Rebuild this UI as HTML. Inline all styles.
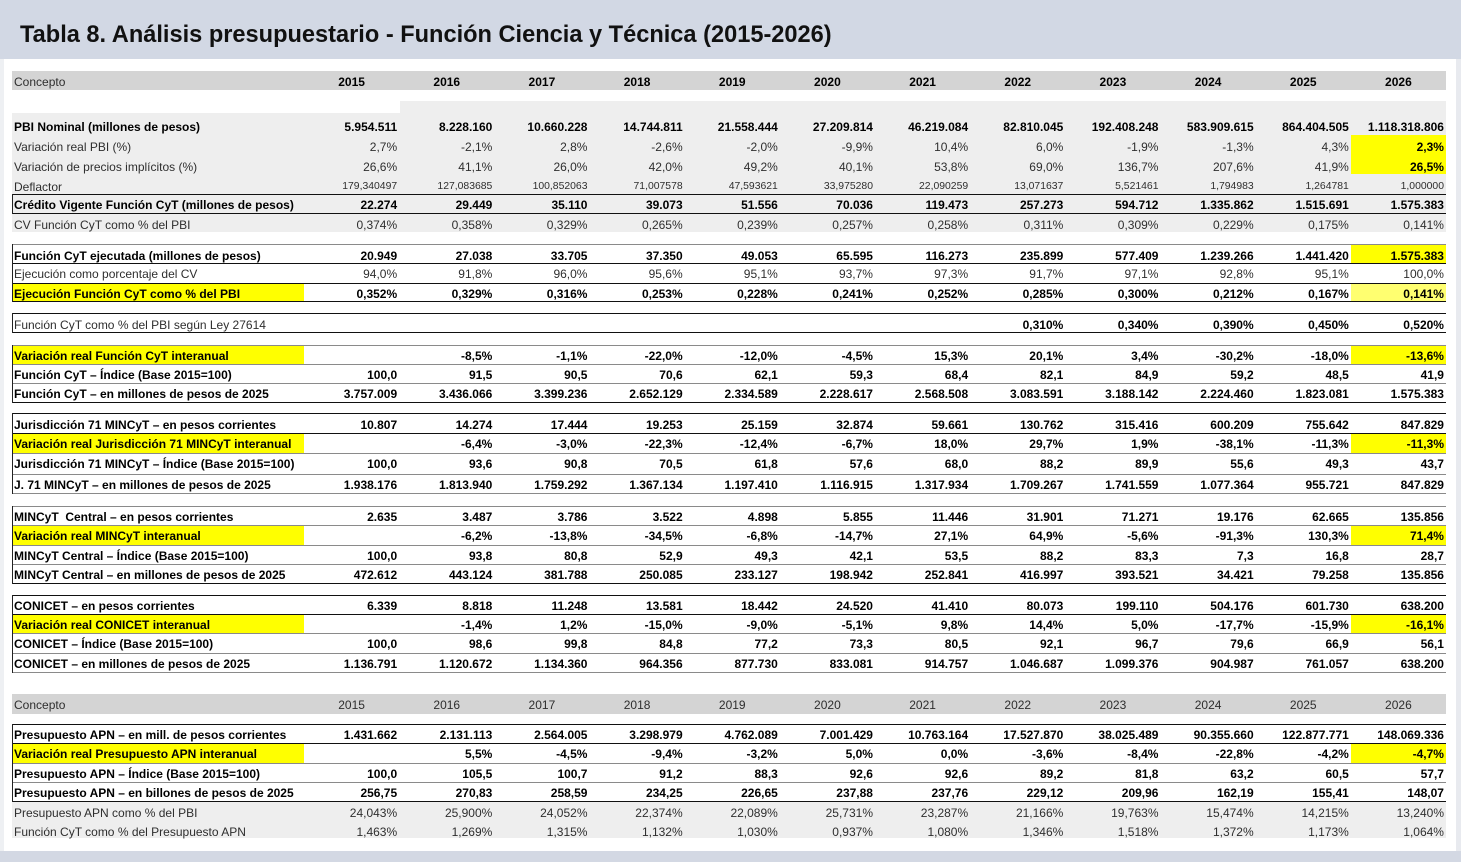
<!DOCTYPE html>
<html><head><meta charset="utf-8">
<style>
html,body{margin:0;padding:0}
body{width:1461px;height:862px;position:relative;background:#fff;overflow:hidden;font-family:"Liberation Sans",Arial,sans-serif;color:#2e2e2e}
.abs{position:absolute}
.title{left:0;top:0;width:1461px;height:59px;background:#d2d8e4}
.title span{position:absolute;left:20px;top:22px;font-size:23.6px;line-height:26px;font-weight:bold;color:#111;white-space:nowrap}
.r{position:absolute;left:12px;width:1434px;display:grid;grid-template-columns:292px repeat(12,1fr);font-size:12px;white-space:nowrap}
.r>span{text-align:right;padding-right:2px;overflow:visible;position:relative;top:1px}
.r.s2>span{top:2px}
.r>span:first-child{text-align:left;padding-left:2px}
.b{font-weight:bold;color:#000}
.h>span{text-align:center;padding:0}
.d>span{font-size:10.4px}
.d>span:first-child{font-size:12px}
.ln{position:absolute;left:12px;width:1434px;height:1px;background:#111}
.lg{position:absolute;left:12px;width:1434px;height:1px;background:#8a8a8a}
.vb{position:absolute;left:12px;width:1px;background:#222}
.yl{position:absolute;background:#ffff00}
.gr{position:absolute;background:#eeeeee}
</style></head><body>
<div class="abs title"><span>Tabla 8. Análisis presupuestario - Función Ciencia y Técnica (2015-2026)</span></div>
<div class="abs" style="left:0;top:59px;width:4px;height:792px;background:#eef0f3"></div>
<div class="abs" style="left:1456px;top:59px;width:5px;height:792px;background:#e8eaef"></div>
<div class="abs" style="left:0;top:851px;width:1461px;height:11px;background:#d3d8e3"></div>

<!-- backgrounds -->
<div class="abs" style="left:12px;top:71px;width:1434px;height:19px;background:#d4d4d4"></div>
<div class="gr" style="left:400px;top:101px;width:1046px;height:12px"></div>
<div class="gr" style="left:12px;top:113px;width:1434px;height:119px"></div>
<div class="abs" style="left:12px;top:694px;width:1434px;height:20px;background:#d4d4d4"></div>
<div class="gr" style="left:12px;top:801px;width:1434px;height:37px"></div>

<!-- yellow -->
<div class="yl" style="left:1351px;top:135px;width:95px;height:39px"></div>
<div class="yl" style="left:1351px;top:245px;width:95px;height:18px"></div>
<div class="yl" style="left:1351px;top:284px;width:95px;height:17px;background:#ffff70"></div>
<div class="yl" style="left:12px;top:284px;width:292px;height:17px"></div>
<div class="yl" style="left:12px;top:346px;width:292px;height:18px"></div>
<div class="yl" style="left:1351px;top:346px;width:95px;height:18px"></div>
<div class="yl" style="left:12px;top:434px;width:292px;height:19px"></div>
<div class="yl" style="left:1351px;top:434px;width:95px;height:19px"></div>
<div class="yl" style="left:12px;top:526px;width:292px;height:19px"></div>
<div class="yl" style="left:1351px;top:526px;width:95px;height:19px"></div>
<div class="yl" style="left:12px;top:615px;width:292px;height:18px"></div>
<div class="yl" style="left:1351px;top:615px;width:95px;height:18px"></div>
<div class="yl" style="left:12px;top:744px;width:292px;height:19px"></div>
<div class="yl" style="left:1351px;top:744px;width:95px;height:19px"></div>

<!-- lines -->
<div class="ln" style="top:194px"></div>
<div class="ln" style="top:213px"></div>
<div class="lg" style="top:244px"></div>
<div class="ln" style="top:263px"></div>
<div class="ln" style="top:283px"></div>
<div class="ln" style="top:301px"></div>
<div class="ln" style="top:313px"></div>
<div class="ln" style="top:332px"></div>
<div class="lg" style="top:345px"></div>
<div class="lg" style="top:364px"></div>
<div class="lg" style="top:383px"></div>
<div class="ln" style="top:402px"></div>
<div class="ln" style="top:413px"></div>
<div class="ln" style="top:433px"></div>
<div class="lg" style="top:453px"></div>
<div class="lg" style="top:474px"></div>
<div class="lg" style="top:493px"></div>
<div class="lg" style="top:506px"></div>
<div class="lg" style="top:525px"></div>
<div class="lg" style="top:545px"></div>
<div class="lg" style="top:564px"></div>
<div class="ln" style="top:583px"></div>
<div class="ln" style="top:595px"></div>
<div class="ln" style="top:614px"></div>
<div class="lg" style="top:633px"></div>
<div class="lg" style="top:653px"></div>
<div class="lg" style="top:672px"></div>
<div class="ln" style="top:724px"></div>
<div class="ln" style="top:743px"></div>
<div class="lg" style="top:763px"></div>
<div class="lg" style="top:782px"></div>
<div class="ln" style="top:801px"></div>

<div class="vb" style="top:194px;height:20px"></div>
<div class="vb" style="top:244px;height:58px"></div>
<div class="vb" style="top:313px;height:20px"></div>
<div class="vb" style="top:345px;height:58px"></div>
<div class="vb" style="top:413px;height:81px"></div>
<div class="vb" style="top:506px;height:78px"></div>
<div class="vb" style="top:595px;height:78px"></div>
<div class="vb" style="top:724px;height:78px"></div>

<!-- header 1 -->
<div class="r h s2" style="top:71px;height:19px;line-height:19px"><span style="text-align:left;padding-left:2px">Concepto</span><span class="b">2015</span><span class="b">2016</span><span class="b">2017</span><span class="b">2018</span><span class="b">2019</span><span class="b">2020</span><span class="b">2021</span><span class="b">2022</span><span class="b">2023</span><span class="b">2024</span><span class="b">2025</span><span class="b">2026</span></div>

<div class="r b" style="top:117px;height:19px;line-height:19px"><span>PBI Nominal (millones de pesos)</span><span>5.954.511</span><span>8.228.160</span><span>10.660.228</span><span>14.744.811</span><span>21.558.444</span><span>27.209.814</span><span>46.219.084</span><span>82.810.045</span><span>192.408.248</span><span>583.909.615</span><span>864.404.505</span><span>1.118.318.806</span></div>
<div class="r" style="top:137px;height:19px;line-height:19px"><span>Variación real PBI (%)</span><span>2,7%</span><span>-2,1%</span><span>2,8%</span><span>-2,6%</span><span>-2,0%</span><span>-9,9%</span><span>10,4%</span><span>6,0%</span><span>-1,9%</span><span>-1,3%</span><span>4,3%</span><span class="b">2,3%</span></div>
<div class="r" style="top:157px;height:18px;line-height:18px"><span>Variación de precios implícitos (%)</span><span>26,6%</span><span>41,1%</span><span>26,0%</span><span>42,0%</span><span>49,2%</span><span>40,1%</span><span>53,8%</span><span>69,0%</span><span>136,7%</span><span>207,6%</span><span>41,9%</span><span class="b">26,5%</span></div>
<div class="r d s2" style="top:176px;height:18px;line-height:18px"><span>Deflactor</span><span>179,340497</span><span>127,083685</span><span>100,852063</span><span>71,007578</span><span>47,593621</span><span>33,975280</span><span>22,090259</span><span>13,071637</span><span>5,521461</span><span>1,794983</span><span>1,264781</span><span>1,000000</span></div>
<div class="r b" style="top:195px;height:18px;line-height:18px"><span>Crédito Vigente Función CyT (millones de pesos)</span><span>22.274</span><span>29.449</span><span>35.110</span><span>39.073</span><span>51.556</span><span>70.036</span><span>119.473</span><span>257.273</span><span>594.712</span><span>1.335.862</span><span>1.515.691</span><span>1.575.383</span></div>
<div class="r" style="top:215px;height:18px;line-height:18px"><span>CV Función CyT como % del PBI</span><span>0,374%</span><span>0,358%</span><span>0,329%</span><span>0,265%</span><span>0,239%</span><span>0,257%</span><span>0,258%</span><span>0,311%</span><span>0,309%</span><span>0,229%</span><span>0,175%</span><span>0,141%</span></div>

<div class="r b s2" style="top:245px;height:18px;line-height:19px"><span>Función CyT ejecutada (millones de pesos)</span><span>20.949</span><span>27.038</span><span>33.705</span><span>37.350</span><span>49.053</span><span>65.595</span><span>116.273</span><span>235.899</span><span>577.409</span><span>1.239.266</span><span>1.441.420</span><span>1.575.383</span></div>
<div class="r" style="top:264px;height:19px;line-height:19px"><span>Ejecución como porcentaje del CV</span><span>94,0%</span><span>91,8%</span><span>96,0%</span><span>95,6%</span><span>95,1%</span><span>93,7%</span><span>97,3%</span><span>91,7%</span><span>97,1%</span><span>92,8%</span><span>95,1%</span><span>100,0%</span></div>
<div class="r b" style="top:284px;height:17px;line-height:18px"><span>Ejecución Función CyT como % del PBI</span><span>0,352%</span><span>0,329%</span><span>0,316%</span><span>0,253%</span><span>0,228%</span><span>0,241%</span><span>0,252%</span><span>0,285%</span><span>0,300%</span><span>0,212%</span><span>0,167%</span><span>0,141%</span></div>

<div class="r s2" style="top:314px;height:18px;line-height:19px"><span>Función CyT como % del PBI según Ley 27614</span><span></span><span></span><span></span><span></span><span></span><span></span><span></span><span class="b">0,310%</span><span class="b">0,340%</span><span class="b">0,390%</span><span class="b">0,450%</span><span class="b">0,520%</span></div>

<div class="r b" style="top:346px;height:18px;line-height:18px"><span>Variación real Función CyT interanual</span><span></span><span>-8,5%</span><span>-1,1%</span><span>-22,0%</span><span>-12,0%</span><span>-4,5%</span><span>15,3%</span><span>20,1%</span><span>3,4%</span><span>-30,2%</span><span>-18,0%</span><span>-13,6%</span></div>
<div class="r b" style="top:365px;height:18px;line-height:18px"><span>Función CyT – Índice (Base 2015=100)</span><span>100,0</span><span>91,5</span><span>90,5</span><span>70,6</span><span>62,1</span><span>59,3</span><span>68,4</span><span>82,1</span><span>84,9</span><span>59,2</span><span>48,5</span><span>41,9</span></div>
<div class="r b" style="top:384px;height:18px;line-height:18px"><span>Función CyT – en millones de pesos de 2025</span><span>3.757.009</span><span>3.436.066</span><span>3.399.236</span><span>2.652.129</span><span>2.334.589</span><span>2.228.617</span><span>2.568.508</span><span>3.083.591</span><span>3.188.142</span><span>2.224.460</span><span>1.823.081</span><span>1.575.383</span></div>

<div class="r b s2" style="top:414px;height:19px;line-height:19px"><span>Jurisdicción 71 MINCyT – en pesos corrientes</span><span>10.807</span><span>14.274</span><span>17.444</span><span>19.253</span><span>25.159</span><span>32.874</span><span>59.661</span><span>130.762</span><span>315.416</span><span>600.209</span><span>755.642</span><span>847.829</span></div>
<div class="r b" style="top:434px;height:19px;line-height:19px"><span>Variación real Jurisdicción 71 MINCyT interanual</span><span></span><span>-6,4%</span><span>-3,0%</span><span>-22,3%</span><span>-12,4%</span><span>-6,7%</span><span>18,0%</span><span>29,7%</span><span>1,9%</span><span>-38,1%</span><span>-11,3%</span><span>-11,3%</span></div>
<div class="r b" style="top:454px;height:19px;line-height:19px"><span>Jurisdicción 71 MINCyT – Índice (Base 2015=100)</span><span>100,0</span><span>93,6</span><span>90,8</span><span>70,5</span><span>61,8</span><span>57,6</span><span>68,0</span><span>88,2</span><span>89,9</span><span>55,6</span><span>49,3</span><span>43,7</span></div>
<div class="r b" style="top:475px;height:18px;line-height:19px"><span>J. 71 MINCyT – en millones de pesos de 2025</span><span>1.938.176</span><span>1.813.940</span><span>1.759.292</span><span>1.367.134</span><span>1.197.410</span><span>1.116.915</span><span>1.317.934</span><span>1.709.267</span><span>1.741.559</span><span>1.077.364</span><span>955.721</span><span>847.829</span></div>

<div class="r b" style="top:507px;height:18px;line-height:18px"><span>MINCyT&nbsp; Central – en pesos corrientes</span><span>2.635</span><span>3.487</span><span>3.786</span><span>3.522</span><span>4.898</span><span>5.855</span><span>11.446</span><span>31.901</span><span>71.271</span><span>19.176</span><span>62.665</span><span>135.856</span></div>
<div class="r b" style="top:526px;height:19px;line-height:19px"><span>Variación real MINCyT interanual</span><span></span><span>-6,2%</span><span>-13,8%</span><span>-34,5%</span><span>-6,8%</span><span>-14,7%</span><span>27,1%</span><span>64,9%</span><span>-5,6%</span><span>-91,3%</span><span>130,3%</span><span>71,4%</span></div>
<div class="r b" style="top:546px;height:18px;line-height:18px"><span>MINCyT Central – Índice (Base 2015=100)</span><span>100,0</span><span>93,8</span><span>80,8</span><span>52,9</span><span>49,3</span><span>42,1</span><span>53,5</span><span>88,2</span><span>83,3</span><span>7,3</span><span>16,8</span><span>28,7</span></div>
<div class="r b" style="top:565px;height:18px;line-height:19px"><span>MINCyT Central – en millones de pesos de 2025</span><span>472.612</span><span>443.124</span><span>381.788</span><span>250.085</span><span>233.127</span><span>198.942</span><span>252.841</span><span>416.997</span><span>393.521</span><span>34.421</span><span>79.258</span><span>135.856</span></div>

<div class="r b" style="top:596px;height:18px;line-height:19px"><span>CONICET – en pesos corrientes</span><span>6.339</span><span>8.818</span><span>11.248</span><span>13.581</span><span>18.442</span><span>24.520</span><span>41.410</span><span>80.073</span><span>199.110</span><span>504.176</span><span>601.730</span><span>638.200</span></div>
<div class="r b" style="top:615px;height:18px;line-height:18px"><span>Variación real CONICET interanual</span><span></span><span>-1,4%</span><span>1,2%</span><span>-15,0%</span><span>-9,0%</span><span>-5,1%</span><span>9,8%</span><span>14,4%</span><span>5,0%</span><span>-17,7%</span><span>-15,9%</span><span>-16,1%</span></div>
<div class="r b" style="top:634px;height:19px;line-height:19px"><span>CONICET – Índice (Base 2015=100)</span><span>100,0</span><span>98,6</span><span>99,8</span><span>84,8</span><span>77,2</span><span>73,3</span><span>80,5</span><span>92,1</span><span>96,7</span><span>79,6</span><span>66,9</span><span>56,1</span></div>
<div class="r b" style="top:654px;height:18px;line-height:18px"><span>CONICET – en millones de pesos de 2025</span><span>1.136.791</span><span>1.120.672</span><span>1.134.360</span><span>964.356</span><span>877.730</span><span>833.081</span><span>914.757</span><span>1.046.687</span><span>1.099.376</span><span>904.987</span><span>761.057</span><span>638.200</span></div>

<!-- header 2 -->
<div class="r h" style="top:694px;height:20px;line-height:20px"><span style="text-align:left;padding-left:2px">Concepto</span><span>2015</span><span>2016</span><span>2017</span><span>2018</span><span>2019</span><span>2020</span><span>2021</span><span>2022</span><span>2023</span><span>2024</span><span>2025</span><span>2026</span></div>

<div class="r b" style="top:725px;height:18px;line-height:18px"><span>Presupuesto APN – en mill. de pesos corrientes</span><span>1.431.662</span><span>2.131.113</span><span>2.564.005</span><span>3.298.979</span><span>4.762.089</span><span>7.001.429</span><span>10.763.164</span><span>17.527.870</span><span>38.025.489</span><span>90.355.660</span><span>122.877.771</span><span>148.069.336</span></div>
<div class="r b" style="top:744px;height:19px;line-height:19px"><span>Variación real Presupuesto APN interanual</span><span></span><span>5,5%</span><span>-4,5%</span><span>-9,4%</span><span>-3,2%</span><span>5,0%</span><span>0,0%</span><span>-3,6%</span><span>-8,4%</span><span>-22,8%</span><span>-4,2%</span><span>-4,7%</span></div>
<div class="r b" style="top:764px;height:18px;line-height:18px"><span>Presupuesto APN – Índice (Base 2015=100)</span><span>100,0</span><span>105,5</span><span>100,7</span><span>91,2</span><span>88,3</span><span>92,6</span><span>92,6</span><span>89,2</span><span>81,8</span><span>63,2</span><span>60,5</span><span>57,7</span></div>
<div class="r b" style="top:783px;height:18px;line-height:18px"><span>Presupuesto APN – en billones de pesos de 2025</span><span>256,75</span><span>270,83</span><span>258,59</span><span>234,25</span><span>226,65</span><span>237,88</span><span>237,76</span><span>229,12</span><span>209,96</span><span>162,19</span><span>155,41</span><span>148,07</span></div>
<div class="r" style="top:803px;height:18px;line-height:18px"><span>Presupuesto APN como % del PBI</span><span>24,043%</span><span>25,900%</span><span>24,052%</span><span>22,374%</span><span>22,089%</span><span>25,731%</span><span>23,287%</span><span>21,166%</span><span>19,763%</span><span>15,474%</span><span>14,215%</span><span>13,240%</span></div>
<div class="r" style="top:822px;height:18px;line-height:18px"><span>Función CyT como % del Presupuesto APN</span><span>1,463%</span><span>1,269%</span><span>1,315%</span><span>1,132%</span><span>1,030%</span><span>0,937%</span><span>1,080%</span><span>1,346%</span><span>1,518%</span><span>1,372%</span><span>1,173%</span><span>1,064%</span></div>
</body></html>
